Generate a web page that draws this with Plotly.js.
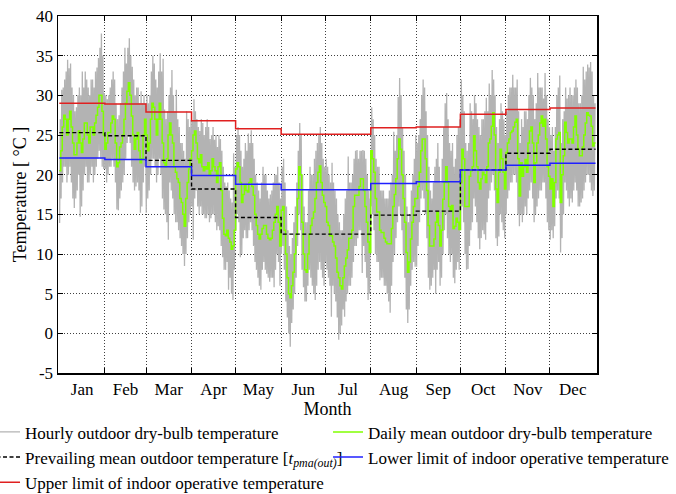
<!DOCTYPE html>
<html><head><meta charset="utf-8">
<script src="https://cdn.plot.ly/plotly-3.0.1.min.js"></script>
<style>html,body{margin:0;padding:0;background:#fff}#chart{width:676px;height:494px}</style>
</head><body><div id="chart"></div>
<script>
const monthNames = ['Jan','Feb','Mar','Apr','May','Jun','Jul','Aug','Sep','Oct','Nov','Dec'];
const monthStartDay = [0,31,59,90,120,151,181,212,243,273,304,334,365];
const upperLimit = [29.0,28.9,27.9,26.8,25.8,25.1,25.1,25.9,26.0,27.6,28.2,28.4];
const lowerLimit = [22.1,21.9,21.0,19.9,18.8,18.1,18.1,18.9,19.1,20.6,21.2,21.45];
const prevailingMean = [25.3,24.9,21.8,18.2,14.6,12.5,12.5,14.9,15.4,20.6,22.7,23.2];
const yTickVals = [-5,0,5,10,15,20,25,30,35,40];
const yTickText = ['-5','0','5','10','15','20','25','30','35','40'];

const dailyMean = [
// Jan
20.5,23,26,27.5,27,25,27,28,26,24,22.5,22.5,24,25.5,24,22.8,24.5,26.5,26.5,25,24,26,26,25,26.5,27.5,28.5,30,30,28,25,
// Feb
23.2,24,25.3,25.3,26.5,27.4,27,24,21,21.5,23.5,24,25,27,29,30.5,31.6,30,27.4,25,23.2,24.5,25.3,23,21.5,22,25,27,
// Mar
25,23,24,27,29,28.5,27,25,27,29,27,24,21.5,21,22,25,26.5,25,24,21,20.3,19.5,19,17,16.5,15,13.5,17,19,20.7,22,
// Apr
23,25,25.5,24,22,21.5,22.5,21,20.5,21,20.7,21.5,20,20.5,22,21,20.5,19,21,21.5,18,14.5,12.5,12.3,13,12,11.5,10.6,11,13,
// May
20.7,21.5,21,19,16.5,17.5,18.6,18,17.8,19,19.5,18.5,17.4,15,13.6,12.5,11.9,12.5,13.2,13.6,13.6,12.5,12,11.8,12,13,14,15,16,14,11,
// Jun
15.5,16,13,10,7,5,4.5,6,7.7,10,12.5,17,21,20,14,10,8,7.7,10,12.5,13.6,14.5,15.3,17,19,20.3,21.1,19,17.4,16.5,
// Jul
16,14,13.6,12.3,12.3,11.5,11,9.5,7.7,7,6,5.6,7,8.5,9.5,10.5,12,12,13,16,17.4,17.4,17.4,18.5,19.5,19.5,18,16,14,11.5,10.2,
// Aug
23,22,20.3,17,15.3,15.3,13,12.7,12.7,12,11.5,11.3,11.3,11.3,13.2,16,17.5,19.5,22,24.5,23.2,20,17,14,10.2,7.7,9,11.9,14,16,17,
// Sep
17,18.5,20.3,23,24.5,24.5,22,18,13.6,11,11,11,11.9,14,15.3,13.6,11,13,16.9,19,21,19,16,15.5,16.1,13.2,13.5,14.5,14,13.1,
// Oct
19,23.2,22,16,16,16,19.8,20.5,21,24.9,23,21,19,18.2,19.5,20.3,20,19,21,24,24.5,26.1,27.8,25,18.2,16.5,20.3,23.2,22,20.3,18.2,
// Nov
22.8,24,24.5,25.3,25.5,26,26.6,27,22,17.3,21.5,19.8,21,21.9,20.3,24,25.5,26,24,19,21.5,24,25,26.5,27.4,26.1,27,24.5,21,19.8,
// Dec
18.2,19.5,16,19,24.5,25,25.3,16.5,20,22.4,26.6,25.3,24,24.5,24.5,24,26,27.4,25,23.2,22.4,22.4,23.5,25,26.5,27.8,27.5,27.4,26.1,23.6,24
];

const dailyMax = [
// Jan
27,30.7,31,32,33,34.5,33.4,34,31,30,28,28.5,30,31,30,33,31,33,32,31,30,32,32,31,33,33.5,34.7,36,37.8,35,30.3,
// Feb
30,29.5,30,31,32,33,32,29,27,27.5,29,31,33,36,34,36,37.2,35,33.6,32,30,31,31,29,30.5,29,30,29,
// Mar
30,29,30,33,35,34,32,31,33,35.3,33,34.6,28.2,27,28,30,31,33.2,30,28,30.7,27,26,24,24,23,22,28,27,26,26.9,
// Apr
26.9,29.5,28,27,26,25.5,27,26.5,25,26,27,26,24.5,25,26,24.4,25,23.5,25,24.5,23,21,19,18.5,19,18,17,16.5,22.7,21,
// May
25,26,25,23,21,22,24,23,25.2,24,25.6,24,22,20,19,18,17,19,21,20,20,18,17,17.5,18,19,20,20,21,19,17,
// Jun
21,22,19,16,13,11,10,12,14,16,19,23,26.5,25,20,16,14,14,18,21,20,20,22,23,24,25,26,24,22,21,
// Jul
22,21,20,19,21.5,19,18,17,15,14,13,13,15,17,18,22.3,19,19,20,22,23,23.1,22,23,23,23.1,23,22,20,18,17,
// Aug
28.5,27,25,22,21,21,18,18,18,17,17,17,18,19,20,25.4,23,25,29.8,32.2,30,26,23,20,16,14,15,18,20,22,25,
// Sep
24,25,27,30,32,31,28,25,21,18,17,19,21,22,24,21,19,22,26,29,30.3,27,24,23,24,21,22,25,26,27,
// Oct
32,30,28,24,23,24,29,28,27,30,29,27,26,25,27,27,28,29.7,28,31.5,30,33.2,32,30,26,24,27,29,28,27,25,
// Nov
28,30,31,31,32.6,31,31,32,28,24,27,26,28,28,27,30,32.2,31,30,27,29,32.8,31,31,31,29.6,32.8,30,27,26,
// Dec
25,26,23,26,30,31,32.5,24,27,28,31,29.6,30,31,30,30,31,32,31,29,29,30,33.6,32,33,33.9,33.5,34.2,33,30,29
];

const dailyMin = [
// Jan
13.9,17,19,21,21,19,20,21,19,17,15.8,17,18,20,14.7,16,18,20,21,19,19,20,21,19,20,21,22,23,22,21,20.7,
// Feb
20.7,19,20,21,21,22,21,19,15.6,15.5,17,18,19,20,22,24,25,24,21,19,18,18.5,19,18,15.2,16,19,21,
// Mar
15.2,17,18,20,22,22,21,19,20,22,20,17,15.6,15,14,11.8,19,18,17,15,14,14,13,12,11,10,8.5,10,12,14,15,
// Apr
16,11.8,17,18,16,15,16,15,15,14.5,14.5,15,14,14.5,15,15,14,13,13.5,13,11,9.6,8,8,9,5.5,7,5,4.2,8,
// May
13,15,14,9.6,10,12,13,12,12,13,14,13,11,9,8,7,6,5.5,8,9,8,7.5,7,6.5,7,7,5.8,8,10,9,6,
// Jun
10,11,8,4,2,0,-1.7,1.3,3,5,7,11,15,13,8,5.8,4,4,6,8,7,6,5,4.2,6,8,9,8,7,6,
// Jul
9,8,7,6,2.1,6,5,4,2,-0.8,0,1,3,2.1,4,5,6,6,7,9,11,11,12,13,13,7.6,11,9,7,4.2,5,
// Aug
16,15,13,10,9,9,6.7,7,7,6,6,5,4,2.6,6,9,10,12,14,16,15,13,10,7,3,1.3,3,6,8,9,8.4,
// Sep
8.4,11,14,17,18,17,15,12,7,5.5,6,7,8,5,8,9,6,7,10,13,15,12,10,9,10,7,6.3,8,9,8,
// Oct
13,16,14,10,8,8.1,11,13,14,17,16,14,12,10.6,12,13,12.5,11.8,14,17,18,19,20,18,12,11,12.2,15,14,13,12,
// Nov
15,17,18,19,19,20,20,19,15,13.5,15,14,15,16,15,17,18,19,17,14,15,16,17,18,18,19,19,17,14,13,
// Dec
11.8,13,12,13.5,17,18,17,10.2,12,15,19,18,17,16,17,16.5,18,19,18,16,16,16.5,17,18,19,20,20,19,18,17.3,18
];

// ---- build traces from the arrays ----
const hourlyX = [], hourlyY = [];
for (let d = 0; d < dailyMean.length; d++) {
  hourlyX.push(d + 0.2, d + 0.65);
  hourlyY.push(dailyMin[d], dailyMax[d]);
}
const dailyX = dailyMean.map((v, i) => i).concat([dailyMean.length]);
const dailyY = dailyMean.concat([dailyMean[dailyMean.length - 1]]);
const stepY = a => a.concat([a[a.length - 1]]);
const monthMid = monthNames.map((m, i) => (monthStartDay[i] + monthStartDay[i + 1]) / 2);

const FONT = 'Liberation Serif, "Times New Roman", serif';

const traces = [
  {name:'Hourly outdoor dry-bulb temperature', x:hourlyX, y:hourlyY, type:'scatter', mode:'lines',
   line:{color:'#b3b3b3', width:1.3}, legend:'legend', hoverinfo:'skip'},
  {name:'Daily mean outdoor dry-bulb temperature', x:dailyX, y:dailyY, type:'scatter', mode:'lines',
   line:{color:'#80ff00', width:1.5, shape:'hv'}, legend:'legend2'},
  {name:'Prevailing mean outdoor temperature [<i>t</i><sub><i>pma(out)</i></sub>]', x:monthStartDay, y:stepY(prevailingMean),
   type:'scatter', mode:'lines', line:{color:'#000', width:1.4, dash:'4px,2.5px', shape:'hv'}, legend:'legend'},
  {name:'Lower limit of indoor operative temperature', x:monthStartDay, y:stepY(lowerLimit), type:'scatter', mode:'lines',
   line:{color:'#2020ff', width:1.5, shape:'hv'}, legend:'legend2'},
  {name:'Upper limit of indoor operative temperature', x:monthStartDay, y:stepY(upperLimit), type:'scatter', mode:'lines',
   line:{color:'#e02020', width:1.5, shape:'hv'}, legend:'legend'}
];

const gridCol = 'rgba(0,0,0,0.75)';
const layout = {
  width:676, height:494,
  margin:{l:58, r:79, t:16, b:121, autoexpand:false},
  paper_bgcolor:'#fff', plot_bgcolor:'#fff',
  font:{family:FONT, size:17, color:'#000'},
  showlegend:true,
  xaxis:{
    range:[-0.9, 366], tickmode:'array', tickvals:monthMid, ticktext:monthNames,
    ticks:'', showgrid:false, zeroline:false, showline:true, linecolor:'#000', linewidth:1.5, mirror:'ticks',
    tickfont:{size:17, family:FONT},
    minor:{tickmode:'array', tickvals:monthStartDay.slice(1, 12), ticks:'inside', ticklen:5, tickcolor:'#000', tickwidth:1,
           showgrid:true, gridcolor:gridCol, griddash:'1px,2px', gridwidth:1},
    title:{text:'Month', font:{size:18, family:FONT}, standoff:4}
  },
  yaxis:{
    range:[-5, 40], tickmode:'array', tickvals:yTickVals, ticktext:yTickText,
    ticks:'inside', ticklen:5, tickcolor:'#000', mirror:'ticks', showline:true, linecolor:'#000', linewidth:1.5,
    showgrid:true, gridcolor:gridCol, griddash:'1px,2px', gridwidth:1, zeroline:false,
    tickfont:{size:17, family:FONT},
    title:{text:'Temperature [ °C ]', font:{size:18, family:FONT}, standoff:5}
  },
  legend:{x:-0.1354, y:-0.116, xanchor:'left', yanchor:'top', orientation:'v', bgcolor:'rgba(0,0,0,0)',
          font:{size:17, family:FONT}, tracegroupgap:0},
  legend2:{x:0.501, y:-0.116, xanchor:'left', yanchor:'top', orientation:'v', bgcolor:'rgba(0,0,0,0)',
          font:{size:17, family:FONT}, tracegroupgap:0}
};

Plotly.newPlot('chart', traces, layout, {displayModeBar:false, staticPlot:true});
</script>
</body></html>
